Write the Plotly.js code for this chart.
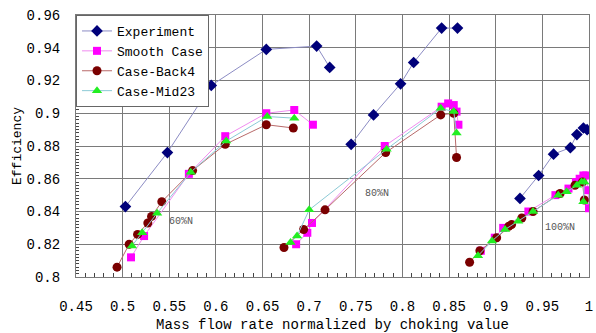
<!DOCTYPE html>
<html>
<head>
<meta charset="utf-8">
<script src="https://cdn.plot.ly/plotly-3.0.1.min.js"></script>
<style>html,body{margin:0;padding:0;background:#fff;}#chart{width:596px;height:333px;}</style>
</head>
<body>
<div id="chart"></div>
<script>
// Experiment
const exp60X = [0.503, 0.548, 0.595, 0.654, 0.708, 0.722];
const exp60Y = [0.843, 0.876, 0.917, 0.939, 0.941, 0.928];
const exp80X = [0.745, 0.769, 0.798, 0.812, 0.842, 0.859];
const exp80Y = [0.881, 0.899, 0.918, 0.931, 0.952, 0.952];
const exp100X = [0.926, 0.946, 0.962, 0.980, 0.987, 0.994, 0.998];
const exp100Y = [0.848, 0.862, 0.875, 0.879, 0.887, 0.891, 0.890];
// Smooth Case
const smo60X = [0.509, 0.523, 0.571, 0.610, 0.654, 0.684, 0.704];
const smo60Y = [0.812, 0.825, 0.863, 0.886, 0.900, 0.902, 0.893];
const smo80X = [0.686, 0.698, 0.703, 0.781, 0.842, 0.849, 0.855, 0.858, 0.860];
const smo80Y = [0.820, 0.827, 0.833, 0.880, 0.904, 0.906, 0.905, 0.901, 0.893];
const smo100X = [0.884, 0.899, 0.908, 0.935, 0.964, 0.978, 0.986, 0.990, 0.994, 0.997, 0.999, 1.000];
const smo100Y = [0.816, 0.824, 0.830, 0.840, 0.850, 0.854, 0.858, 0.860, 0.862, 0.862, 0.853, 0.842];
// Case-Back4
const bk60X = [0.494, 0.507, 0.516, 0.527, 0.531, 0.542, 0.575, 0.610, 0.654, 0.683];
const bk60Y = [0.806, 0.820, 0.826, 0.833, 0.837, 0.846, 0.865, 0.881, 0.893, 0.891];
const bk80X = [0.673, 0.694, 0.717, 0.782, 0.841, 0.855, 0.858];
const bk80Y = [0.818, 0.829, 0.841, 0.876, 0.899, 0.900, 0.873];
const bk100X = [0.872, 0.883, 0.901, 0.914, 0.917, 0.928, 0.940, 0.969, 0.985, 0.993, 0.995];
const bk100Y = [0.809, 0.816, 0.824, 0.831, 0.832, 0.836, 0.840, 0.851, 0.856, 0.858, 0.847];
// Case-Mid23
const mid60X = [0.510, 0.521, 0.537, 0.573, 0.611, 0.655, 0.684];
const mid60Y = [0.819, 0.827, 0.839, 0.864, 0.883, 0.898, 0.897];
const mid80X = [0.680, 0.687, 0.700, 0.783, 0.841, 0.855, 0.858];
const mid80Y = [0.821, 0.825, 0.841, 0.878, 0.903, 0.901, 0.888];
const mid100X = [0.881, 0.896, 0.910, 0.924, 0.940, 0.967, 0.976, 0.987, 0.992, 0.995, 0.994];
const mid100Y = [0.813, 0.822, 0.829, 0.834, 0.840, 0.850, 0.852, 0.856, 0.858, 0.858, 0.846];

const speedLabels = ['60%N', '80%N', '100%N'];
const labelX = [0.5626, 0.7722, 0.9689];
const labelY = [0.8336, 0.8507, 0.830];

function join(a, b, c) { return a.concat([null], b, [null], c); }

const FONT = 'Liberation Mono, DejaVu Sans Mono, monospace';

const traces = [
  {name: 'Experiment', x: join(exp60X, exp80X, exp100X), y: join(exp60Y, exp80Y, exp100Y),
   mode: 'lines+markers', line: {color: '#8c8cc4', width: 1},
   marker: {symbol: 'diamond', size: 9, color: '#00007a'}},
  {name: 'Smooth Case', x: join(smo60X, smo80X, smo100X), y: join(smo60Y, smo80Y, smo100Y),
   mode: 'lines+markers', line: {color: '#f08cf0', width: 1},
   marker: {symbol: 'square', size: 8, color: '#ff00ff'}},
  {name: 'Case-Back4', x: join(bk60X, bk80X, bk100X), y: join(bk60Y, bk80Y, bk100Y),
   mode: 'lines+markers', line: {color: '#b86a6a', width: 1},
   marker: {symbol: 'circle', size: 9, color: '#7a0000'}},
  {name: 'Case-Mid23', x: join(mid60X, mid80X, mid100X), y: join(mid60Y, mid80Y, mid100Y),
   mode: 'lines+markers', line: {color: '#8ccad6', width: 1},
   marker: {symbol: 'triangle-up', size: 9, color: '#22ee22'}}
];

const annotations = speedLabels.map((t, i) => ({
  x: labelX[i], y: labelY[i], xref: 'x', yref: 'y', text: t, showarrow: false,
  font: {family: FONT, size: 10, color: '#555'}
}));

const layout = {
  width: 596, height: 333,
  margin: {l: 76, r: 7, t: 15, b: 56},
  paper_bgcolor: '#fff', plot_bgcolor: '#fff',
  font: {family: FONT, color: '#000'},
  showlegend: true,
  legend: {x: 0, y: 1, xanchor: 'left', yanchor: 'top', bgcolor: '#fff',
    bordercolor: '#666', borderwidth: 1, font: {family: FONT, size: 13, color: '#000'},
    tracegroupgap: 0, itemwidth: 30},
  xaxis: {range: [0.45, 1.0], dtick: 0.05, tick0: 0.45, showgrid: true, gridcolor: '#7a7a7a', gridwidth: 1,
    zeroline: false, showline: true, mirror: true, linecolor: '#7a7a7a', linewidth: 1,
    ticks: '', ticklabelstandoff: 16, tickfont: {family: FONT, size: 14},
    minor: {dtick: 0.01, ticks: 'inside', ticklen: 4, tickcolor: '#444', showgrid: false},
    title: {text: 'Mass flow rate normalized by choking value', font: {family: FONT, size: 14}, standoff: 6}},
  yaxis: {range: [0.8, 0.96], dtick: 0.02, tick0: 0.8, showgrid: true, gridcolor: '#7a7a7a', gridwidth: 1,
    zeroline: false, showline: true, mirror: true, linecolor: '#7a7a7a', linewidth: 1,
    ticks: '', ticklabelstandoff: 12, tickfont: {family: FONT, size: 14},
    minor: {dtick: 0.002, ticks: 'inside', ticklen: 3, tickcolor: '#444', showgrid: false},
    title: {text: 'Efficiency', font: {family: FONT, size: 13}, standoff: 2}},
  annotations: annotations
};

Plotly.newPlot('chart', traces, layout, {displayModeBar: false, staticPlot: true});
</script>
</body>
</html>
